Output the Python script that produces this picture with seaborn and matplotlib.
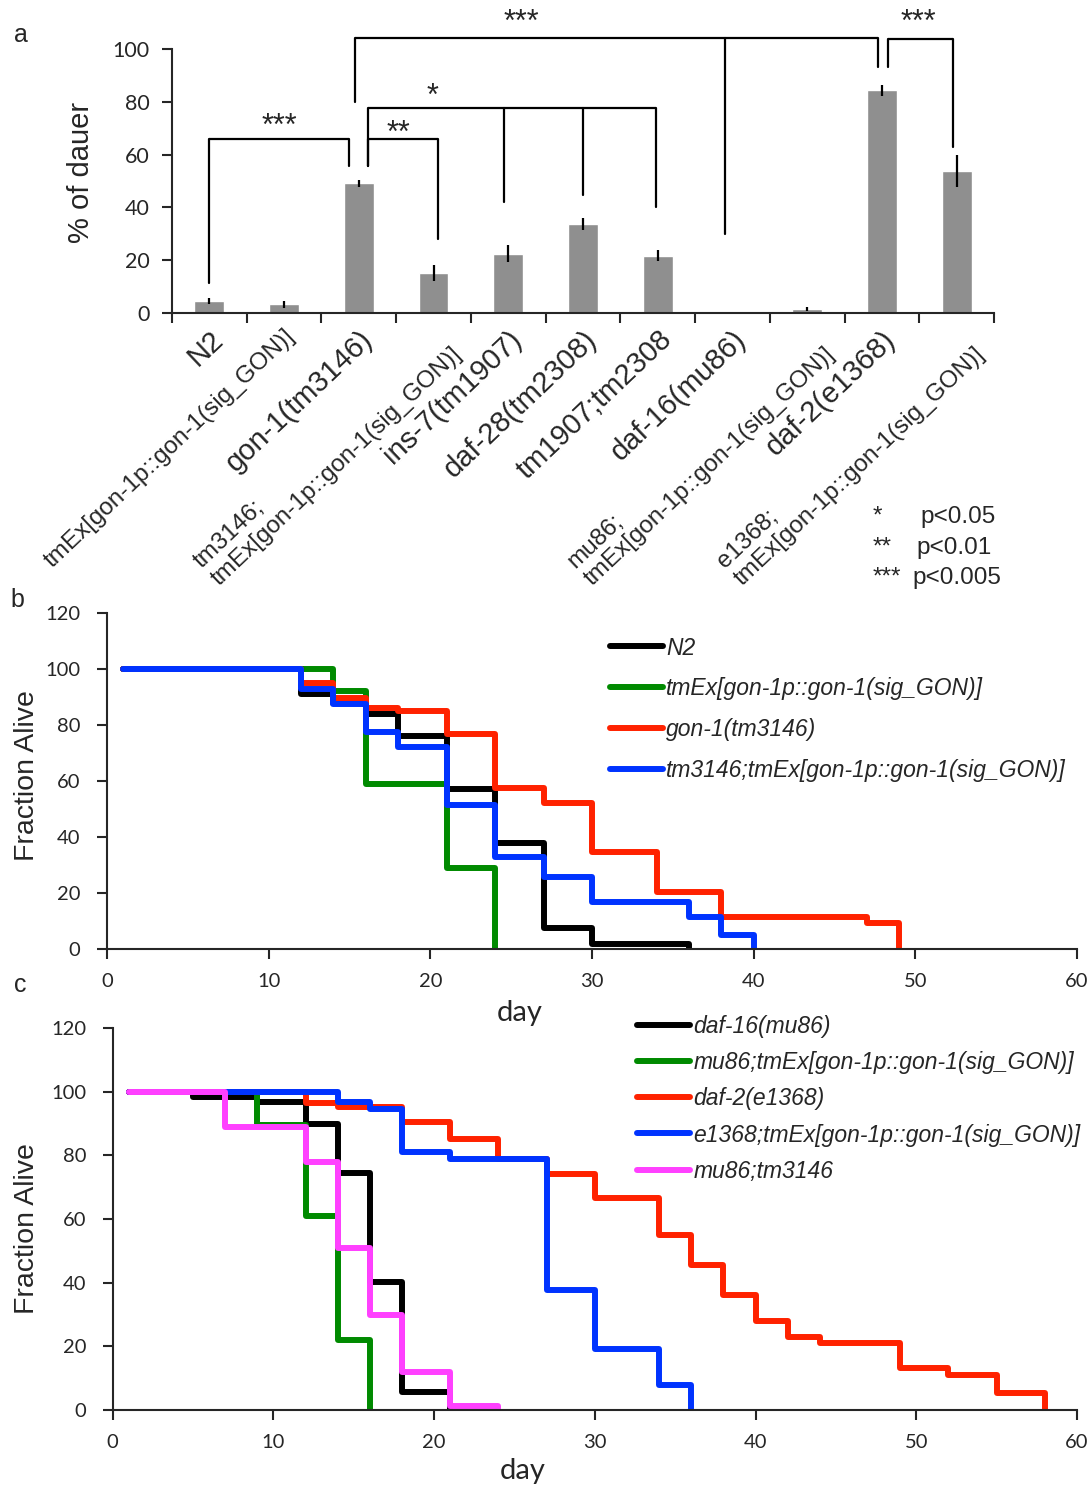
import numpy as np
import pandas as pd
import matplotlib
matplotlib.use("Agg")
import matplotlib.pyplot as plt
import seaborn as sns

# ---- panel a : dauer formation ----
strains = ["N2", "tmEx[gon-1p::gon-1(sig_GON)]", "gon-1(tm3146)",
           "tm3146;\ntmEx[gon-1p::gon-1(sig_GON)]", "ins-7(tm1907)",
           "daf-28(tm2308)", "tm1907;tm2308", "daf-16(mu86)",
           "mu86;\ntmEx[gon-1p::gon-1(sig_GON)]", "daf-2(e1368)",
           "e1368;\ntmEx[gon-1p::gon-1(sig_GON)]"]
dauer_pct = [4.5, 3.3, 49.1, 15.1, 22.5, 33.8, 21.7, 0.0, 1.4, 84.3, 53.8]
dauer_err = [1.0, 1.4, 1.3, 3.0, 3.3, 2.2, 2.0, 0.0, 0.7, 2.1, 6.0]

# significance brackets: (top, legs [(x, bottom)], stars, star x, star y)
brackets = [
    (66.0, [(0.0, 11.3), (1.87, 55.5)], "***", 0.94, 70.5),
    (66.0, [(2.12, 55.5), (3.06, 28.0)], "**", 2.53, 68.0),
    (77.5, [(2.12, 55.5), (3.94, 42.0), (5.0, 44.7), (5.98, 40.0)], "*", 2.99, 82.0),
    (104.0, [(1.95, 80.0), (6.9, 30.0), (8.95, 93.0)], "***", 4.18, 110.0),
    (103.7, [(9.08, 93.0), (9.95, 63.0)], "***", 9.49, 110.0),
]
sig_stars = ["*", "**", "***"]
sig_text = ["p<0.05", "p<0.01", "p<0.005"]

# ---- panel b : lifespan ----
b_names = ["N2", "tmEx[gon-1p::gon-1(sig_GON)]", "gon-1(tm3146)",
           "tm3146;tmEx[gon-1p::gon-1(sig_GON)]"]
b_days = [
    [1, 12, 14, 16, 18, 21, 24, 27, 30, 36],
    [1, 14, 16, 21, 24],
    [1, 12, 14, 16, 18, 21, 24, 27, 30, 34, 38, 47, 49],
    [1, 12, 14, 16, 18, 21, 24, 27, 30, 36, 38, 40],
]
b_alive = [
    [100, 91, 88, 84, 76, 57, 38, 7.4, 1.7, 0],
    [100, 92, 59, 29, 0],
    [100, 95, 89.5, 86, 85, 76.7, 57.4, 52, 34.8, 20.5, 11.5, 9.2, 0],
    [100, 93, 87.5, 77.6, 72, 51.4, 33, 25.8, 16.9, 11.5, 5, 0],
]
b_colors = ["#000000", "#008a00", "#ff2200", "#0033ff"]

# ---- panel c : lifespan ----
c_names = ["daf-16(mu86)", "mu86;tmEx[gon-1p::gon-1(sig_GON)]", "daf-2(e1368)",
           "e1368;tmEx[gon-1p::gon-1(sig_GON)]", "mu86;tm3146"]
c_days = [
    [1, 5, 9, 12, 14, 16, 18, 21],
    [1, 9, 12, 14, 16],
    [1, 12, 14, 18, 21, 24, 27, 30, 34, 36, 38, 40, 42, 44, 49, 52, 55, 58],
    [1, 14, 16, 18, 21, 27, 30, 34, 36],
    [1, 7, 12, 14, 16, 18, 21, 24],
]
c_alive = [
    [100, 98.4, 96.9, 90, 74.3, 40.2, 5.5, 0],
    [100, 89.5, 60.9, 22, 0],
    [100, 96.3, 95.3, 90.6, 85, 78.8, 74, 66.6, 54.9, 45.4, 36, 28.1, 22.9, 21, 13.2, 10.9, 5.2, 0],
    [100, 96.9, 94.5, 81.1, 78.8, 37.6, 19.2, 8, 0],
    [100, 89, 78, 50.9, 29.9, 11.8, 1.4, 0],
]
c_colors = ["#000000", "#008a00", "#ff2200", "#0033ff", "#ff40ff"]


def long_table(names, days, alive):
    rows = []
    for n, d, a in zip(names, days, alive):
        for x, y in zip(d, a):
            rows.append({"strain": n, "day": x, "alive": y})
    return pd.DataFrame(rows)


sns.set_style("ticks")
plt.rcParams['font.family'] = ['Liberation Sans', 'DejaVu Sans']
plt.rcParams['axes.linewidth'] = 1.5
plt.rcParams['xtick.major.width'] = 1.5
plt.rcParams['ytick.major.width'] = 1.5

W, H = 1091, 1485
fig = plt.figure(figsize=(W / 100, H / 100), dpi=100)
num_font = {'family': ['Lato', 'DejaVu Sans']}

# ======== panel a ========
ax = fig.add_axes([172 / W, 1 - 313 / H, 822 / W, 264 / H])
sns.barplot(x=list(range(len(strains))), y=dauer_pct, color="#8f8f8f",
            width=0.4, saturation=1, ax=ax)
ax.errorbar(range(len(strains)), dauer_pct, yerr=dauer_err, fmt='none',
            ecolor='black', elinewidth=1.6, capsize=0)
ax.set_xlim(-0.5, len(strains) - 0.5)
ax.set_ylim(0, 100)
ax.set_yticks(range(0, 101, 20))
ax.set_yticklabels([str(v) for v in range(0, 101, 20)], fontsize=15.5, **num_font)
ax.set_xticks(np.arange(-0.5, len(strains), 1))
ax.set_xticklabels([])
ax.set_xticks(range(len(strains)), minor=True)
ax.set_xticklabels(strains, minor=True, rotation=43.5, ha='right', va='top',
                   rotation_mode='anchor', multialignment='left', linespacing=1.15)
for lab in ax.get_xticklabels(minor=True):
    lab.set_fontsize(17.5 if 'tmEx' in lab.get_text() else 21)
ax.tick_params(axis='x', which='minor', length=0, pad=9)
ax.tick_params(axis='x', which='major', length=7, direction='out')
ax.tick_params(axis='y', length=7, direction='out', pad=9)
ax.set_ylabel("% of dauer", fontsize=21)
ax.yaxis.set_label_coords(-0.094, 0.534)
sns.despine(ax=ax)

for top, legs, stars, sx, sy in brackets:
    xs = [l[0] for l in legs]
    ax.plot([min(xs), max(xs)], [top, top], color='black', lw=1.6,
            clip_on=False, solid_capstyle='butt')
    for x, bottom in legs:
        ax.plot([x, x], [top, bottom], color='black', lw=1.6, clip_on=False)
    ax.text(sx, sy, stars, ha='center', va='center', fontsize=22)

for i, (s, t) in enumerate(zip(sig_stars, sig_text)):
    y = 1 - (517 + 30.5 * i) / H
    fig.text(873 / W, y, s, fontsize=17.5, va='center', ha='left')
    fig.text((920 - 4 * i) / W, y, t, fontsize=17.5, va='center', ha='left')

fig.text(14 / W, 1 - 35 / H, "a", fontsize=18, va='center')
fig.text(10 / W, 1 - 600 / H, "b", fontsize=18, va='center')
fig.text(14 / W, 1 - 985 / H, "c", fontsize=18, va='center')


def survival_panel(rect, names, days, alive, colors, legend_xy, spacing, lab_x, lab_y, day_y):
    axs = fig.add_axes(rect)
    df = long_table(names, days, alive)
    sns.lineplot(data=df, x="day", y="alive", hue="strain", hue_order=names,
                 palette=colors, estimator=None, sort=False,
                 drawstyle='steps-post', lw=4.3, solid_capstyle='round',
                 solid_joinstyle='round', ax=axs)
    axs.set_xlim(0, 60)
    axs.set_ylim(0, 120)
    axs.set_xticks(range(0, 61, 10))
    axs.set_xticklabels([str(v) for v in range(0, 61, 10)], fontsize=14.5, **num_font)
    axs.set_yticks(range(0, 121, 20))
    axs.set_yticklabels([str(v) for v in range(0, 121, 20)], fontsize=14.5, **num_font)
    axs.tick_params(axis='x', length=7, direction='out', pad=10)
    axs.tick_params(axis='y', length=7, direction='out', pad=12)
    axs.set_ylabel("Fraction Alive", fontsize=20.5)
    axs.yaxis.set_label_coords(lab_x, lab_y)
    axs.set_xlabel("day", fontsize=21, **num_font)
    axs.xaxis.set_label_coords(0.425, day_y)
    handles, labels = axs.get_legend_handles_labels()
    axs.legend(handles, labels, loc='upper left', bbox_to_anchor=legend_xy,
               frameon=False, borderaxespad=0, borderpad=0, handlelength=2.3,
               handletextpad=0.15, labelspacing=spacing,
               prop={'style': 'italic', 'size': 16.5})
    sns.despine(ax=axs)
    return axs


survival_panel([107 / W, 1 - 949 / H, 970 / W, 336 / H], b_names, b_days, b_alive,
               b_colors, (0.5186, 0.93), 0.78, -0.069, 0.515, -0.152)
survival_panel([112.7 / W, 1 - 1410 / H, 964.3 / W, 382 / H], c_names, c_days, c_alive,
               c_colors, (0.5437, 1.035), 0.58, -0.075, 0.476, -0.126)

fig.savefig("out.png", dpi=100)
